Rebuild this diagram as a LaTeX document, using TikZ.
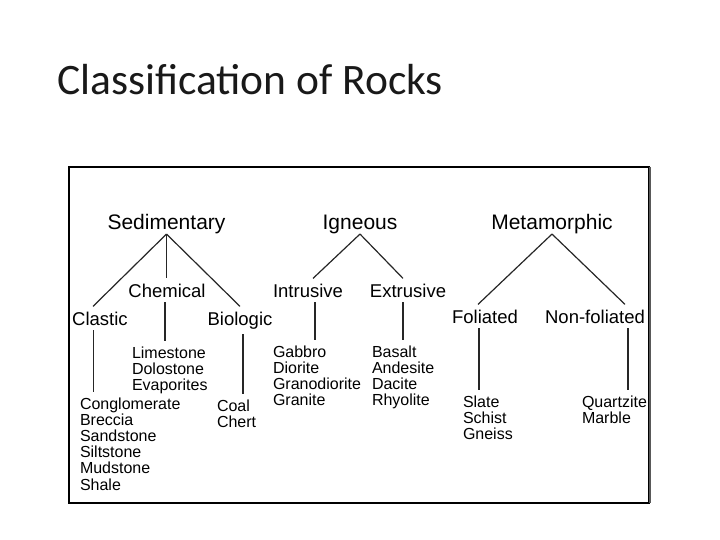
\documentclass[tikz,border=0pt]{standalone}
\usepackage{fontspec}
\setmainfont{Liberation Sans}
\newfontfamily\titlefont{Carlito}
\usetikzlibrary{positioning}

\begin{document}
\begin{tikzpicture}[
  x=1pt,y=-1pt,
  kind/.style={inner sep=0pt,font=\fontsize{21}{23}\selectfont},
  sub/.style={inner xsep=0pt,inner ysep=5pt,font=\fontsize{18.5}{20}\selectfont},
  rocks/.style={align=left,inner sep=0pt,outer xsep=0pt,outer ysep=6pt,
                anchor=north west,font=\fontsize{16}{16.2}\selectfont},
  link/.style={line width=1.2pt,draw=black!85}
]
\useasboundingbox (0,0) rectangle (720,540);

% title
\node[anchor=base west,inner sep=0pt,text=black!90,font=\titlefont\fontsize{43.5}{48}\selectfont]
  (title) at (57,95) {Classification of Rocks};

% frame
\draw[line width=1.2pt] (69,167) rectangle (649,503);
\draw[line width=2.4pt,black!65] (650,167) -- (650,503);

% main kinds
\node[kind,anchor=base] (sed) at (166.5,229.5) {Sedimentary};
\node[kind,anchor=base] (ign) at (360,229.5) {Igneous};
\node[kind,anchor=base] (met) at (552,229.5) {Metamorphic};

% sub kinds
\node[sub,anchor=base] (chem) at (167,297) {Chemical};
\node[sub,anchor=base] (clastic) at (100,325) {Clastic};
\node[sub,anchor=base] (bio) at (240,325) {Biologic};
\node[sub,anchor=base] (intr) at (308,297) {Intrusive};
\node[sub,anchor=base] (extr) at (408,297) {Extrusive};
\node[sub,anchor=base] (fol) at (485,323) {Foliated};
\node[sub,anchor=base] (nonfol) at (595,323) {Non-foliated};

% rock lists
\node[rocks] (clasticl) at (80,391.5)
  {Conglomerate\\Breccia\\Sandstone\\Siltstone\\Mudstone\\Shale};
\node[rocks] (cheml) at (132,340.5) {Limestone\\Dolostone\\Evaporites};
\node[rocks] (biol) at (217,393.5) {Coal\\Chert};
\node[rocks] (intrl) at (273,339.5) {Gabbro\\Diorite\\Granodiorite\\Granite};
\node[rocks] (extrl) at (372,339.5) {Basalt\\Andesite\\Dacite\\Rhyolite};
\node[rocks] (foll) at (463,389.5) {Slate\\Schist\\Gneiss};
\node[rocks] (nonfoll) at (582,389.5) {Quartzite\\Marble};

% branches
\draw[link] (sed.south) -- ([xshift=-7pt]clastic.north);
\draw[link] (sed.south) -- (sed.south |- chem.north);
\draw[link] (sed.south) -- (bio.north);
\draw[link] (ign.south) -- ([xshift=5pt]intr.north);
\draw[link] (ign.south) -- ([xshift=-5pt]extr.north);
\draw[link] (met.south) -- ([xshift=-7pt]fol.north);
\draw[link] (met.south) -- ([xshift=30pt]nonfol.north);

% stems
\draw[link] ([xshift=-6.5pt]clastic.south) -- ([xshift=-6.5pt]clastic.south |- clasticl.north);
\draw[link] ([xshift=-2pt]chem.south) -- ([xshift=-2pt]chem.south |- cheml.north);
\draw[link] ([xshift=3pt]bio.south) -- ([xshift=3pt]bio.south |- biol.north);
\draw[link] ([xshift=7pt]intr.south) -- ([xshift=7pt]intr.south |- intrl.north);
\draw[link] ([xshift=-5pt]extr.south) -- ([xshift=-5pt]extr.south |- extrl.north);
\draw[link] ([xshift=-6pt]fol.south) -- ([xshift=-6pt]fol.south |- foll.north);
\draw[link] ([xshift=33pt]nonfol.south) -- ([xshift=33pt]nonfol.south |- nonfoll.north);
\end{tikzpicture}
\end{document}
